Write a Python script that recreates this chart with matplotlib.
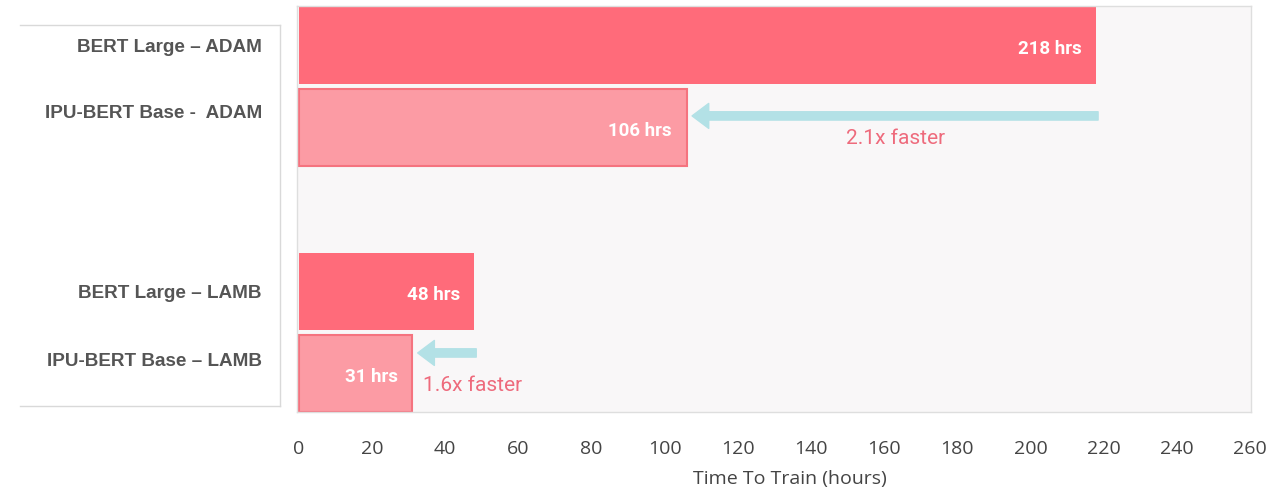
import matplotlib
matplotlib.use("Agg")
import matplotlib.pyplot as plt
from matplotlib.lines import Line2D
import matplotlib.transforms as mtransforms

# data
labels = ["BERT Large – ADAM", "IPU-BERT Base -  ADAM", "BERT Large – LAMB", "IPU-BERT Base – LAMB"]
hours = [218, 106, 48, 31]
positions = [0, 1, 3, 4]
value_text = ["218 hrs", "106 hrs", "48 hrs", "31 hrs"]
is_ipu = [False, True, False, True]
speedups = ["2.1x faster", "1.6x faster"]
xticks = list(range(0, 261, 20))

dark = "#ff6b7a"
light = "#fc9ba4"
light_edge = "#f5737f"
arrow_col = "#b3e1e6"
speed_col = "#ee6a7c"

W, H = 1279, 491
fig = plt.figure(figsize=(W / 100, H / 100), dpi=100)
fig.patch.set_facecolor("white")

ax = fig.add_axes([297 / W, 1 - 412 / H, 954 / W, 406 / H])
ax.set_facecolor("#f9f7f8")
for s in ax.spines.values():
    s.set_color("#dedede")
    s.set_linewidth(1)

for p, h, ipu in zip(positions, hours, is_ipu):
    if ipu:
        ax.barh(p, h, height=0.93, color=light, edgecolor=light_edge, linewidth=1.5)
    else:
        ax.barh(p, h, height=0.93, color=dark, edgecolor="none")

for p, h, t in zip(positions, hours, value_text):
    ax.text(h - 4, p + 0.04, t, ha="right", va="center", color="white",
            fontsize=13.5, fontweight="bold", family="Roboto")

# speed-up arrows (from baseline bar end to IPU bar end)
arrow_y = [0.86, 3.75]
text_y = [1.14, 4.15]
for (big, small), ay, ty, s in zip([(hours[0], hours[1]), (hours[2], hours[3])], arrow_y, text_y, speedups):
    ax.annotate("", xy=(small + 1.5, ay), xytext=(big + 0.5, ay),
                arrowprops=dict(arrowstyle="simple,head_length=1.2,head_width=1.8,tail_width=0.6",
                                color=arrow_col, shrinkA=0, shrinkB=0, mutation_scale=10))
    if s == speedups[0]:
        ax.text((big + small) / 2 + 1, ty, s, ha="center", va="center", color=speed_col,
                fontsize=15, family="Roboto")
    else:
        ax.text(small + 3, ty, s, ha="left", va="center", color=speed_col,
                fontsize=15, family="Roboto")

ax.set_xlim(-0.5, 260.3)
ax.set_ylim(4.47, -0.48)
ax.set_xticks(xticks)
ax.set_xticklabels([str(x) for x in xticks], fontsize=14, color="#444444", family="Open Sans")
ax.tick_params(axis="x", length=0, pad=20)
ax.set_yticks([])
ax.set_xlabel("Time To Train (hours)", fontsize=14, color="#444444", family="Open Sans")
ax.xaxis.set_label_coords((790 - 297) / 954, -(479 - 412) / 406)
ax.xaxis.label.set_va("center")

# category labels in a white panel on the left (not centred on the bars)
label_y = [0.02, 0.835, 3.03, 3.86]
trans = mtransforms.blended_transform_factory(fig.transFigure, ax.transData)
for ly, lab in zip(label_y, labels):
    ax.text(262 / W, ly, lab, transform=trans, ha="right", va="center",
            fontsize=13.6, fontweight="bold", color="#555555", family="Liberation Sans",
            clip_on=False)

x0, x1 = 20 / W, 280 / W
y0, y1 = 1 - 25 / H, 1 - 406 / H
for xs, ys in [([x0, x1], [y0, y0]), ([x1, x1], [y0, y1]), ([x0, x1], [y1, y1])]:
    fig.add_artist(Line2D(xs, ys, transform=fig.transFigure, color="#d9d9d9", linewidth=1))

fig.savefig("out.png", dpi=100)
